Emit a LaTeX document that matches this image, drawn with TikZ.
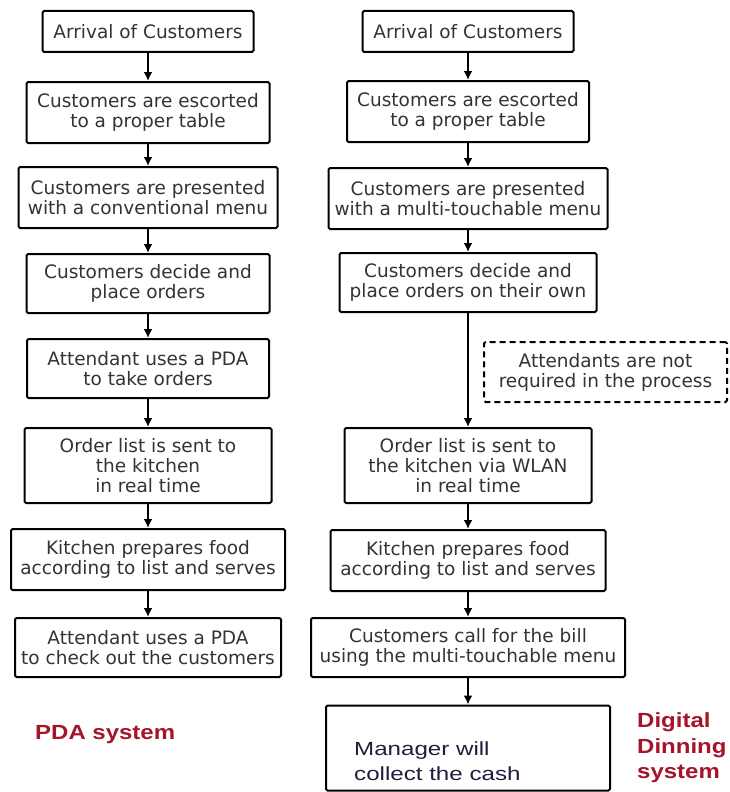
\documentclass[tikz,border=0pt]{standalone}
\usepackage{fontspec}
\setmainfont{DejaVu Sans}
\newfontfamily\mgrfont{Liberation Sans}[FakeStretch=1.27]
\newfontfamily\tagfont{Liberation Sans}[FakeStretch=1.17]
\usepackage{tikz}
\usetikzlibrary{shapes,arrows.meta}
\definecolor{tagred}{RGB}{165,20,40}
\definecolor{mgrblue}{RGB}{30,30,60}
\tikzstyle{line} = [draw, line width=2pt, -{Latex[length=9pt,width=9pt]}]
\tikzstyle{block} = [draw, rectangle, align=center, line width=2pt, rounded corners=1.5pt, text=black!80, font=\fontsize{18.5}{20}\selectfont, inner sep=0pt]
\tikzstyle{dashblock} = [block, dashed, dash pattern=on 6pt off 4pt]
\tikzstyle{tag} = [text=tagred, font=\tagfont\bfseries\fontsize{20.5}{25.5}\selectfont, align=left, inner sep=0pt]

\begin{document}
\begin{tikzpicture}[x=1pt, y=1pt, node distance=85pt, auto]
        \useasboundingbox (0,0) rectangle (729,-792);
        % PDA system
        \node[block, minimum width=211pt, minimum height=41pt] (arr1) at (148,-31.5) {Arrival of Customers};
        \node[block, below of=arr1, node distance=81pt, minimum width=243pt, minimum height=61pt] (esc1) {Customers are escorted\\to a proper table};
        \node[block, below of=esc1, minimum width=259pt, minimum height=61pt] (menu1) {Customers are presented\\with a conventional menu};
        \node[block, below of=menu1, node distance=86pt, minimum width=243pt, minimum height=59pt] (order1) {Customers decide and\\place orders};
        \node[block, below of=order1, minimum width=242pt, minimum height=59pt] (pda1) {Attendant uses a PDA\\to take orders};
        \node[block, below of=pda1, node distance=97pt, minimum width=247pt, minimum height=75pt] (send1) {Order list is sent to\\the kitchen\\in real time};
        \node[block, below of=send1, node distance=94pt, minimum width=274pt, minimum height=61pt] (cook1) {Kitchen prepares food\\according to list and serves};
        \node[block, below of=cook1, node distance=88pt, minimum width=266pt, minimum height=59pt] (bill1) {Attendant uses a PDA\\to check out the customers};
        \node[tag, anchor=base west] (pdalbl) at (35,-739) {PDA system};
        % Digital Dinning system
        \node[block, minimum width=211pt, minimum height=41pt] (arr2) at (468,-31.5) {Arrival of Customers};
        \node[block, below of=arr2, node distance=80pt, minimum width=242pt, minimum height=61pt] (esc2) {Customers are escorted\\to a proper table};
        \node[block, below of=esc2, node distance=87pt, minimum width=279pt, minimum height=61pt] (menu2) {Customers are presented\\with a multi-touchable menu};
        \node[block, below of=menu2, node distance=84pt, minimum width=257pt, minimum height=59pt] (order2) {Customers decide and\\place orders on their own};
        \node[dashblock, minimum width=243pt, minimum height=60pt] (note) at (605.5,-372) {Attendants are not\\required in the process};
        \node[block, below of=order2, node distance=183pt, minimum width=247pt, minimum height=75pt] (send2) {Order list is sent to\\the kitchen via WLAN\\in real time};
        \node[block, below of=send2, node distance=95pt, minimum width=275pt, minimum height=61pt] (cook2) {Kitchen prepares food\\according to list and serves};
        \node[block, below of=cook2, node distance=87pt, minimum width=314pt, minimum height=59pt] (bill2) {Customers call for the bill\\using the multi-touchable menu};
        \node[block, below of=bill2, node distance=100.5pt, minimum width=284pt, minimum height=85pt] (cash) {};
        \node[anchor=west, align=left, inner sep=0pt, text=mgrblue, font=\mgrfont\fontsize{19}{25}\selectfont] (cashtxt) at ([xshift=29pt,yshift=-13pt]cash.west) {Manager will\\collect the cash};
        \node[tag, anchor=west] (ddslbl) at (637,-748) {Digital\\Dinning\\system};
        \path[line] (arr1) -- (esc1);
        \path[line] (esc1) -- (menu1);
        \path[line] (menu1) -- (order1);
        \path[line] (order1) -- (pda1);
        \path[line] (pda1) -- (send1);
        \path[line] (send1) -- (cook1);
        \path[line] (cook1) -- (bill1);
        \path[line] (arr2) -- (esc2);
        \path[line] (esc2) -- (menu2);
        \path[line] (menu2) -- (order2);
        \path[line] (order2) -- (send2);
        \path[line] (send2) -- (cook2);
        \path[line] (cook2) -- (bill2);
        \path[line] (bill2) -- (cash);
    \end{tikzpicture}
\end{document}
